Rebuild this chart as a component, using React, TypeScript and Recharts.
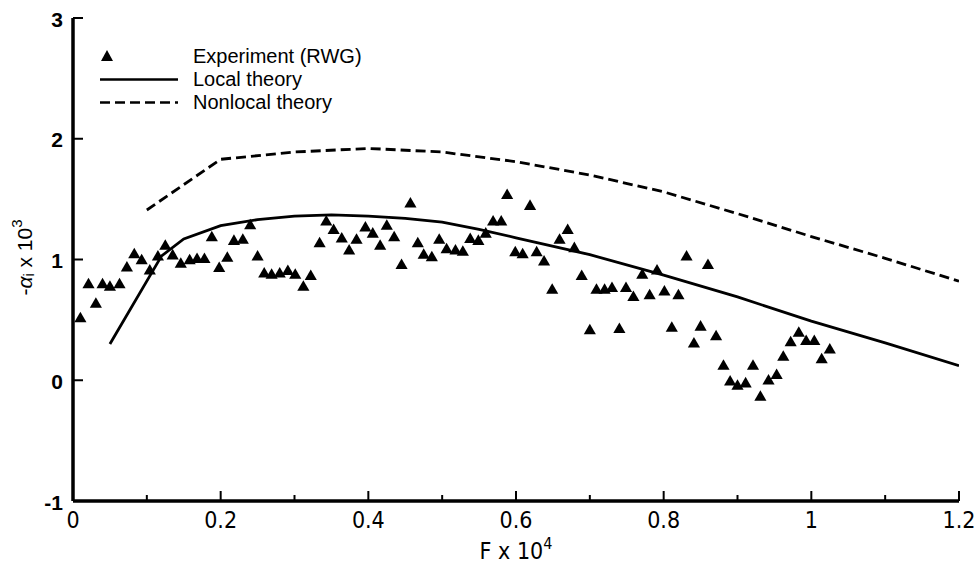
import {
  ScatterChart, Scatter, XAxis, YAxis, ZAxis, Legend, Label,
} from 'recharts';

// Experiment (RWG)
const expF = [
  0.010, 0.021, 0.031, 0.040, 0.050, 0.063, 0.073, 0.083, 0.093, 0.104,
  0.115, 0.125, 0.135, 0.146, 0.158, 0.168, 0.178, 0.188, 0.198, 0.209,
  0.218, 0.230, 0.240, 0.250, 0.259, 0.269, 0.280, 0.291, 0.301, 0.312,
  0.322, 0.334, 0.343, 0.353, 0.364, 0.374, 0.384, 0.396, 0.406, 0.416,
  0.425, 0.435, 0.445, 0.457, 0.467, 0.475, 0.486, 0.496, 0.506, 0.518,
  0.528, 0.538, 0.549, 0.559, 0.569, 0.580, 0.588, 0.599, 0.609, 0.619,
  0.628, 0.638, 0.649, 0.659, 0.670, 0.679, 0.689, 0.700, 0.709, 0.720,
  0.730, 0.740, 0.749, 0.759, 0.771, 0.781, 0.791, 0.801, 0.811, 0.820,
  0.831, 0.841, 0.850, 0.860, 0.871, 0.881, 0.890, 0.900, 0.911, 0.921,
  0.931, 0.942, 0.953, 0.962, 0.972, 0.983, 0.993, 1.004, 1.014, 1.025,
];
const expAlpha = [
  0.51, 0.79, 0.63, 0.79, 0.77, 0.79, 0.93, 1.04, 0.99, 0.905,
  1.02, 1.11, 1.03, 0.96, 0.99, 1.00, 1.00, 1.18, 0.925, 1.01,
  1.15, 1.16, 1.28, 1.02, 0.88, 0.87, 0.88, 0.90, 0.87, 0.77,
  0.86, 1.13, 1.31, 1.24, 1.17, 1.07, 1.16, 1.26, 1.21, 1.11,
  1.275, 1.18, 0.95, 1.46, 1.13, 1.035, 1.015, 1.16, 1.08, 1.07,
  1.06, 1.165, 1.15, 1.21, 1.31, 1.31, 1.53, 1.055, 1.04, 1.44,
  1.055, 0.98, 0.745, 1.16, 1.24, 1.09, 0.86, 0.41, 0.745, 0.745,
  0.76, 0.42, 0.76, 0.685, 0.87, 0.70, 0.905, 0.73, 0.43, 0.70,
  1.02, 0.30, 0.44, 0.95, 0.36, 0.116, -0.014, -0.05, -0.03, 0.116,
  -0.14, -0.006, 0.04, 0.19, 0.31, 0.39, 0.32, 0.32, 0.17, 0.25,
];

// Local theory
const localF = [0.05, 0.12, 0.15, 0.2, 0.25, 0.3, 0.35, 0.4, 0.45, 0.5, 0.55, 0.6, 0.7, 0.8, 0.9, 1.0, 1.1, 1.2];
const localAlpha = [0.30, 1.03, 1.17, 1.28, 1.33, 1.36, 1.37, 1.36, 1.34, 1.31, 1.25, 1.18, 1.04, 0.87, 0.69, 0.49, 0.31, 0.12];

// Nonlocal theory
const nonlocalF = [0.1, 0.2, 0.3, 0.4, 0.5, 0.6, 0.7, 0.8, 0.9, 1.0, 1.1, 1.2];
const nonlocalAlpha = [1.41, 1.83, 1.89, 1.92, 1.89, 1.81, 1.70, 1.56, 1.38, 1.19, 1.01, 0.82];

const xTicks = [0, 0.1, 0.2, 0.3, 0.4, 0.5, 0.6, 0.7, 0.8, 0.9, 1, 1.1, 1.2];
const xMajor = [0, 0.2, 0.4, 0.6, 0.8, 1, 1.2];
const yTicks = [-1, 0, 1, 2, 3];

const expData = expF.map((x, i) => ({ x, y: expAlpha[i] }));
const localData = localF.map((x, i) => ({ x, y: localAlpha[i] }));
const nonlocalData = nonlocalF.map((x, i) => ({ x, y: nonlocalAlpha[i] }));

const SANS = '"Liberation Sans", Arial, Helvetica, sans-serif';
const NARROW = '"Liberation Sans Narrow", "DejaVu Sans Condensed", "Liberation Sans", Arial, sans-serif';
const FRAME = { stroke: '#000', strokeWidth: 3.5 };

const XTick = (props: any) => {
  const { x, y, payload } = props;
  const major = xMajor.includes(payload.value);
  return (
    <g>
      <line x1={x} x2={x} y1={y} y2={y - (major ? 10 : 6)} stroke="#000" strokeWidth={2} />
      {major && (
        <text x={x} y={y + 19} textAnchor="middle" dominantBaseline="central"
          fontFamily={NARROW} fontSize={23} fill="#000">
          {String(payload.value)}
        </text>
      )}
    </g>
  );
};

const YTick = (props: any) => {
  const { x, y, payload } = props;
  return (
    <g>
      <line x1={x} x2={x + 10} y1={y} y2={y} stroke="#000" strokeWidth={2} />
      <text x={x - 10} y={y + 1} textAnchor="end" dominantBaseline="central"
        fontFamily={SANS} fontSize={21} fontWeight="bold" fill="#000">
        {String(payload.value)}
      </text>
    </g>
  );
};

const YLabel = ({ viewBox }: any) => {
  const cy = viewBox.y + viewBox.height / 2 - 2;
  const cx = 24;
  return (
    <text transform={`translate(${cx},${cy}) rotate(-90)`} textAnchor="middle"
      dominantBaseline="central" fontFamily={SANS} fontSize={21} fill="#000">
      -<tspan fontStyle="italic">α</tspan>
      <tspan fontSize={14} dy={5}>i</tspan>
      <tspan dy={-5}> x 10</tspan>
      <tspan fontSize={15} dy={-8}>3</tspan>
    </text>
  );
};

const XLabel = ({ viewBox }: any) => {
  const cx = viewBox.x + viewBox.width / 2;
  return (
    <text x={cx} y={551} textAnchor="middle" dominantBaseline="central"
      fontFamily={NARROW} fontSize={23} fill="#000">
      F x 10<tspan fontSize={16} dy={-8}>4</tspan>
    </text>
  );
};

const NoDot = () => <g />;

const legendIcons: Record<string, 'triangle' | 'solid' | 'dashed'> = {
  'Experiment (RWG)': 'triangle',
  'Local theory': 'solid',
  'Nonlocal theory': 'dashed',
};

const LegendContent = ({ payload }: any) => (
  <div style={{ fontFamily: SANS, fontSize: 20, color: '#000' }}>
    {(payload || []).map((entry: any) => {
      const kind = legendIcons[entry.value];
      return (
        <div key={entry.value} style={{ display: 'flex', alignItems: 'center', height: 23 }}>
          <svg width={82} height={23} style={{ display: 'block' }}>
            {kind === 'triangle' && <polygon points="9,5 15,16 3,16" fill="#000" />}
            {kind === 'solid' && <line x1={2} x2={80} y1={11.5} y2={11.5} stroke="#000" strokeWidth={2.5} />}
            {kind === 'dashed' && (
              <line x1={2} x2={80} y1={11.5} y2={11.5} stroke="#000" strokeWidth={2.5} strokeDasharray="10 5" />
            )}
          </svg>
          <span style={{ marginLeft: 13, lineHeight: '23px' }}>{entry.value}</span>
        </div>
      );
    })}
  </div>
);

export default function App() {
  return (
    <div style={{ position: 'absolute', left: 0, top: 0, width: 980, height: 564, background: '#fff' }}>
      <ScatterChart width={980} height={564} margin={{ top: 18, right: 21, bottom: 0, left: 0 }}>
        <XAxis type="number" dataKey="x" domain={[0, 1.2]} ticks={xTicks} interval={0}
          axisLine={FRAME} tickLine={false} tickSize={0} tickMargin={0} height={63}
          tick={<XTick />} allowDataOverflow>
          <Label content={<XLabel />} />
        </XAxis>
        <XAxis xAxisId="top" orientation="top" type="number" dataKey="x" domain={[0, 1.2]}
          axisLine={FRAME} tick={false} tickLine={false} height={0} allowDataOverflow />
        <YAxis type="number" dataKey="y" domain={[-1, 3]} ticks={yTicks} interval={0}
          axisLine={FRAME} tickLine={false} tickSize={0} tickMargin={0} width={73}
          tick={<YTick />} allowDataOverflow>
          <Label content={<YLabel />} />
        </YAxis>
        <YAxis yAxisId="right" orientation="right" type="number" dataKey="y" domain={[-1, 3]}
          axisLine={FRAME} tick={false} tickLine={false} width={0} allowDataOverflow />
        <ZAxis range={[75, 75]} />
        <Scatter name="Experiment (RWG)" data={expData} fill="#000" shape="triangle" isAnimationActive={false} />
        <Scatter name="Local theory" data={localData} fill="#000" shape={<NoDot />}
          line={{ stroke: '#000', strokeWidth: 2.8 }} isAnimationActive={false} />
        <Scatter name="Nonlocal theory" data={nonlocalData} fill="#000" shape={<NoDot />}
          line={{ stroke: '#000', strokeWidth: 2.8, strokeDasharray: '10 5' }} isAnimationActive={false} />
        <Legend layout="vertical" align="center" verticalAlign="middle" content={<LegendContent />}
          wrapperStyle={{ left: 98, top: 45, width: 320 }} />
      </ScatterChart>
    </div>
  );
}
